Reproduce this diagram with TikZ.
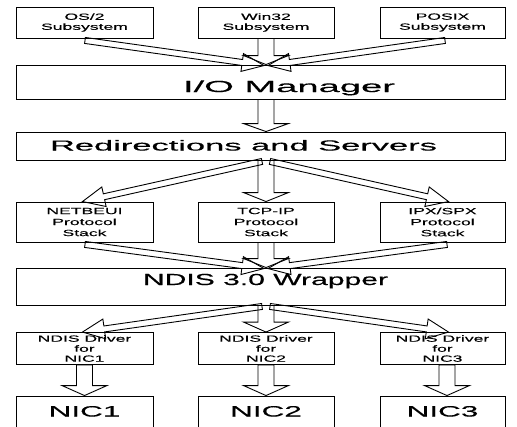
\documentclass[tikz,border=0pt]{standalone}
\usepackage{fontspec}
\usepackage{graphicx}
\setmainfont{Liberation Sans}
\newfontfamily\bigfont[FakeBold=0.3]{Liberation Sans}
\newfontfamily\smallwide[FakeStretch=1.95,FakeBold=0.2]{Liberation Sans}
\newfontfamily\nicwide[FakeStretch=2.1,FakeBold=0.35]{Liberation Sans}
\usetikzlibrary{calc}

\newcommand\blockarrow[5]{%
  \coordinate (ba-s) at (#1);
  \coordinate (ba-t) at (#2);
  \coordinate (ba-h) at ($(ba-t)!#5!(ba-s)$);
  \draw[arrowline]
    ($(ba-s)!#3!90:(ba-t)$) --
    ($(ba-h)!#3!90:(ba-t)$) --
    ($(ba-h)!#4!90:(ba-t)$) --
    (ba-t) --
    ($(ba-h)!#4!-90:(ba-t)$) --
    ($(ba-h)!#3!-90:(ba-t)$) --
    ($(ba-s)!#3!-90:(ba-t)$) -- cycle;
}

\begin{document}
\begin{tikzpicture}[x=1pt,y=-1pt,
  box/.style={draw=black,line width=0.9pt,inner sep=0pt},
  arrowline/.style={draw=black,line width=0.9pt,line join=miter},
  small/.style={font={\smallwide\fontsize{9}{#1}\selectfont},align=center},
  small/.default=10,
  col1/.style={minimum width=137pt},
  col2/.style={minimum width=136pt},
  col3/.style={minimum width=125pt},
  wide/.style={minimum width=489pt},
  bigtext/.style={anchor=base,inner sep=0pt},
  nictext/.style={font={\nicwide\fontsize{15}{18}\selectfont},text height=11pt,text depth=4pt}
]
\useasboundingbox (0,0) rectangle (517,426);
\clip (0,0) rectangle (517,426);

% top subsystems
\node[box,col1,minimum height=31pt,small] (os2)   at (84.5,22.5)  {OS/2\\Subsystem};
\node[box,col2,minimum height=31pt,small] (win32) at (266,22.5)   {Win32\\Subsystem};
\node[box,col3,minimum height=31pt,small] (posix) at (442.5,22.5) {POSIX\\Subsystem};

% wide layers
\node[box,wide,minimum height=34pt] (io)    at (260.5,82)    {};
\node[box,wide,minimum height=28pt] (redir) at (260.5,146)   {};
\node[box,wide,minimum height=37pt] (ndis)  at (260.5,286.5) {};
\node[bigtext] (io-t)    at (289,92)    {\resizebox{212pt}{\height}{\bigfont\fontsize{16}{19}\selectfont I/O Manager}};
\node[bigtext] (redir-t) at (243.5,150.5) {\resizebox{387pt}{\height}{\bigfont\fontsize{14.5}{17}\selectfont Redirections and Servers}};
\node[bigtext] (ndis-t)  at (265.5,285) {\resizebox{245pt}{\height}{\bigfont\fontsize{16}{19}\selectfont NDIS 3.0 Wrapper}};

% protocol stacks
\node[box,col1,minimum height=40pt,small=11] (netbeui) at (84.5,222)  {NETBEUI\\Protocol\\Stack};
\node[box,col2,minimum height=40pt,small=11] (tcpip)   at (266,222)   {TCP-IP\\Protocol\\Stack};
\node[box,col3,minimum height=40pt,small=11] (ipx)     at (442.5,222) {IPX/SPX\\Protocol\\Stack};

% drivers
\node[box,col1,minimum height=32pt,small] (drv1) at (84.5,348.5)  {NDIS Driver\\for\\NIC1};
\node[box,col2,minimum height=32pt,small] (drv2) at (266,348.5)   {NDIS Driver\\for\\NIC2};
\node[box,col3,minimum height=32pt,small] (drv3) at (442.5,348.5) {NDIS Driver\\for\\NIC3};

% NICs (bottom runs off the picture)
\node[box,col1,minimum height=34pt,nictext] (nic1) at (84.5,413)  {NIC1};
\node[box,col2,minimum height=34pt,nictext] (nic2) at (266,413)   {NIC2};
\node[box,col3,minimum height=34pt,nictext] (nic3) at (442.5,413) {NIC3};

% vertical block arrows
\blockarrow{win32.south}{win32.south |- io.north}{8pt}{22.5pt}{9pt}
\blockarrow{tcpip.north |- io.south}{tcpip.north |- redir.north}{8pt}{22.5pt}{8pt}
\blockarrow{tcpip.north |- redir.south}{tcpip.north}{8pt}{22.5pt}{9pt}
\blockarrow{tcpip.south}{tcpip.south |- ndis.north}{8pt}{22.5pt}{9pt}
\blockarrow{drv2.north |- ndis.south}{drv2.north}{8pt}{22.5pt}{10pt}
\blockarrow{drv1.south}{nic1.north}{8pt}{22.5pt}{10pt}
\blockarrow{drv2.south}{nic2.north}{8pt}{22.5pt}{10pt}
\blockarrow{$(drv3.south)+(4.5,0)$}{$(nic3.north)+(4.5,0)$}{8pt}{22.5pt}{10pt}

% converging diagonal arrows
\blockarrow{$(os2.south)+(0.5,2)$}{$(win32.south |- io.north)+(-2,1)$}{3pt}{9pt}{22pt}
\blockarrow{$(posix.south)+(2.5,2)$}{$(win32.south |- io.north)+(2,1)$}{3pt}{9pt}{22pt}
\blockarrow{$(netbeui.south)+(0.5,2)$}{$(tcpip.south |- ndis.north)+(-2,1)$}{3pt}{9pt}{22pt}
\blockarrow{$(ipx.south)+(4.5,2)$}{$(tcpip.south |- ndis.north)+(2,1)$}{3pt}{9pt}{22pt}

% diverging diagonal arrows
\blockarrow{$(tcpip.north |- redir.south)+(-4,1)$}{$(netbeui.north)+(-2,0)$}{3pt}{10pt}{22pt}
\blockarrow{$(tcpip.north |- redir.south)+(4,1)$}{$(ipx.north)+(6,0)$}{3pt}{10pt}{22pt}
\blockarrow{$(drv2.north |- ndis.south)+(-4,1)$}{$(drv1.north)+(-2,0)$}{3pt}{10pt}{22pt}
\blockarrow{$(drv2.north |- ndis.south)+(4,1)$}{$(drv3.north)+(6,0)$}{3pt}{10pt}{22pt}
\end{tikzpicture}
\end{document}
